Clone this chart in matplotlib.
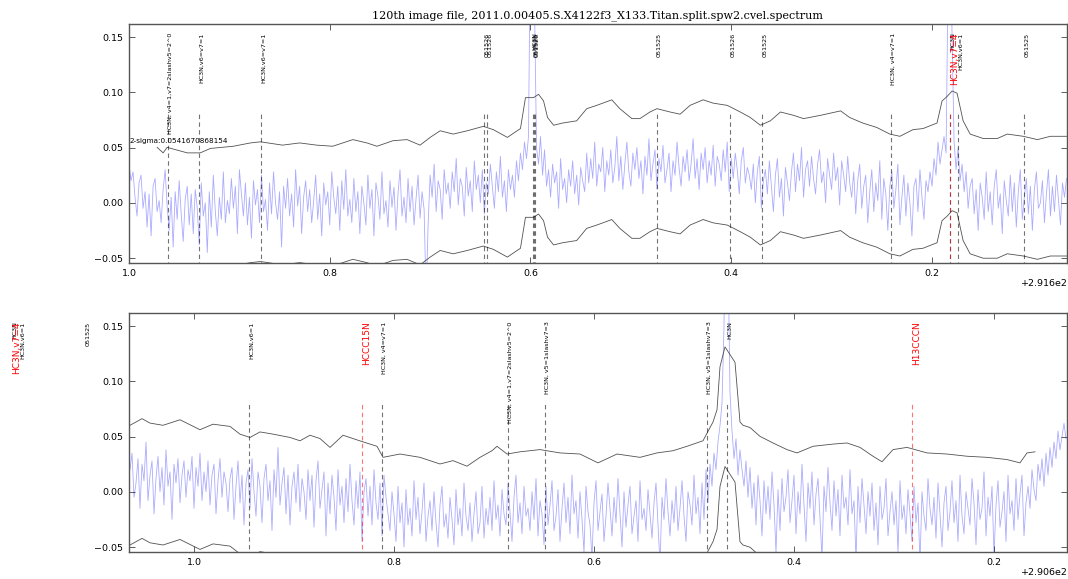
import matplotlib

matplotlib.use("Agg")

import matplotlib.pyplot as plt
import numpy as np

TITLE = "120th image file, 2011.0.00405.S.X4122f3_X133.Titan.split.spw2.cvel.spectrum"
SIGMA2 = 0.0541670868154

# spectrum channels (GHz), 2 MHz steps, values in mJy
TOP_START, BOT_START, CHAN = 292.600, 291.664, 0.002
spec_top_mjy = [
    35, 20, 28, 5, -12, 18, 25, -5, 10, -22,
    8, -30, 15, 22, -8, 2, -18, 12, 30, -3,
    -25, 5, -40, 10, -15, 20, -10, -35, 3, 15,
    -20, 8, -28, 12, -5, -38, 18, -12, 0, -45,
    10, -22, 25, -8, -30, 5, -15, 28, -18, 2,
    -10, 22, -5, 15, -28, 30, 8, -12, 18, -20,
    5, -32, 20, -2, 12, -18, 25, -8, 3, -25,
    18, -10, 28, 0, -15, 10, -40, 15, -5, 22,
    -12, 8, -22, 30, -3, 15, -28, 5, 20, -8,
    12, -18, 2, 25, -15, 8, -30, 18, -2, 10,
    -20, 28, 5, -10, 15, -25, 20, -6, 30, -12,
    3, -18, 22, -8, 10, -28, 15, 0, -20, 25,
    -5, 12, -30, 18, 6, -15, 28, -10, 2, -22,
    20, -4, 14, -25, 8, 30, -12, 5, -18, 22,
    -8, 15, -20, 4, 25, -14, 10, -6, -85, -20,
    25, 5, 35, -8, 20, 12, -15, 30, 8, 18,
    -5, 28, 10, 40, -2, 22, 15, -12, 32, 6,
    20, -8, 38, 12, 25, 0, 30, -10, 18, 8,
    35, 15, -5, 28, 10, 42, 5, 20, -8, 30,
    12, 25, 5, 38, 20, 45, 30, 55, 40, 60,
    250, 320, 180, 50, 35, 60, 25, 48, 15, 30,
    5, 35, 18, 28, -5, 40, 12, 22, 0, 30,
    15, 38, 8, 25, -2, 32, 20, 10, 45, 18,
    40, 22, 55, 15, 35, 28, 50, 10, 38, 25,
    48, 18, 32, 60, 20, 42, 12, 35, 55, 28,
    15, 45, 30, 50, 22, 38, 8, 42, 25, 58,
    20, 35, 48, 12, 40, 28, 52, 18, 30, 45,
    10, 38, 25, 55, 32, 15, 42, 28, 48, 20,
    35, 58, 22, 40, 12, 45, 30, 50, 18, 38,
    25, 52, 15, 42, 35, 20, 48, 28, 55, 10,
    40, 22, 45, 30, 8, 38, 50, 18, 32, 25,
    12, 35, 0, 28, 42, -5, 20, 30, 8, 38,
    15, -8, 25, 40, 5, 22, -12, 32, 18, 2,
    28, 45, 10, 35, 20, 50, 5, 30, 38, 15,
    42, 22, 8, 35, 48, 18, 28, 0, 40, 25,
    12, 45, 20, 32, -2, 38, 25, 10, 42, 18,
    5, 28, -10, 20, 35, -5, 15, 25, -18, 10,
    30, -8, 18, 2, 38, -15, 22, 8, -25, 15,
    28, -5, 12, 35, -20, 5, 25, -12, 18, 0,
    -30, 15, 22, -8, 30, 5, -15, 20, 10, 28,
    15, 40, 25, 55, 35, 48, 60, 45, 200, 280,
    150, 55, 30, 50, 20, 35, 10, 28, -5, 15,
    22, -10, 12, -25, 18, 5, -15, 28, -8, 10,
    -20, 15, 30, -5, 8, -28, 20, 2, -12, 25,
    -8, 18, -22, 10, 30, -15, 5, 22, -10, 15,
    -25, 12, 28, -5, 0, 20, -18, 8, 30, -12,
    15, -8, 25, 2, -20, 18, 5, 22,
]
spec_bot_mjy = [
    20, 35, -5, 8, 30, -15, 25, 10, 45, -8,
    15, 28, -20, 12, 32, 0, 22, -12, 38, 5,
    18, -25, 25, 8, 30, -10, 15, 28, -5, 20,
    10, 32, -15, 22, 5, 35, -8, 18, 0, 28,
    -12, 15, 25, -20, 10, 30, -5, 18, 8, -18,
    12, 22, -25, 5, 28, -10, 15, -30, 8, 20,
    -15, 30, 0, -22, 18, 5, -28, 12, 25, -8,
    10, -35, 20, -5, 40, -12, 8, 22, -20, 15,
    -30, 5, 18, -10, 25, -18, 12, 0, -25, 20,
    -8, 15, -32, 10, 28, -15, 2, 18, -40, 8,
    -20, 15, -5, -35, 20, -12, 5, -28, 12, -18,
    25, -8, -30, 10, -15, 18, -45, 0, 12, -22,
    5, -30, 20, -10, -25, 8, -40, 15, -5, -20,
    -35, 0, -20, -45, 5, -28, -10, -50, 2, -30,
    -15, -40, 10, -25, -5, -38, -18, 8, -45, -22,
    -8, -35, 0, -28, -50, -12, 5, -32, -20, -42,
    -5, -25, -48, 2, -30, -15, -40, 8, -22, -35,
    -10, -45, -20, 0, -38, -28, 5, -42, -15, -30,
    -5, -35, 10, -25, -12, -40, 2, -20, -30, 8,
    -18, -45, -5, 15, -28, -10, -38, 5, -22, -15,
    -35, 0, -25, 12, -40, -8, -20, -48, 5, -30,
    -12, 10, -35, -22, 2, -45, -15, 8, -28, -5,
    -38, 15, -20, -8, -42, 0, -25, -55, 5, -18,
    -30, -60, -10, 10, -35, -18, -2, -45, -22, 8,
    -15, -40, -5, -28, 12, -20, -50, 0, -32, -12,
    5, -38, -22, -8, -45, 10, -25, -15, -35, 2,
    -20, -42, -10, 8, -30, -65, -5, -25, 12, -18,
    -40, -8, -28, 5, -35, -15, 10, -22, -45, 0,
    -12, -30, 15, -20, -5, -38, 8, -25, 20, -10,
    25, 5, 35, 20, 45, 60, 80, 150, 300, 220,
    90, 55, 30, 48, 15, 38, 20, 5, 28, -5,
    22, -15, 8, -30, 15, -8, -40, 10, -20, 5,
    -25, 18, -12, -55, 2, -35, 12, -18, -5, 20,
    -28, -8, 15, -38, 0, -20, 25, -12, -45, 8,
    -15, 18, -30, -2, 12, -25, -60, 5, -18, 22,
    -10, -35, 10, -22, 2, -40, 15, -15, -5, -30,
    20, -20, -8, -62, 5, -28, 12, -12, -38, 0,
    -22, 8, -35, -10, -48, 5, -25, -15, 12, -40,
    -18, 0, -30, -8, -55, 10, -25, -12, -38, 2,
    -20, -45, 5, -28, -10, -65, 0, -22, -35, 12,
    -15, -30, -5, -42, 8, -20, -50, -10, 5, -35,
    -18, 10, -28, -8, -45, 15, -22, -38, 0, -15,
    -30, 12, -10, -48, 2, -25, -15, 18, -40, -5,
    -22, 5, -58, -12, 10, -32, -18, 0, -45, 15,
    -20, -8, -35, 12, -25, -2, 15, -40, -10, 5,
    -15, 20, 2, -8, 25, 10, 30, 5, 35, 15,
    40, 22, 45, 30, 55, 38, 50, 62, 48,
]

# smoothed spectrum (Jy), the black traces are this +/- 2 sigma
smooth_freq = [
    292.572, 292.566, 292.562, 292.542, 292.529, 292.519, 292.496, 292.479,
    292.469, 292.447, 292.430, 292.413, 292.397, 292.377, 292.363, 292.353,
    292.337, 292.323, 292.310, 292.300, 292.290, 292.277, 292.263, 292.247,
    292.237, 292.223, 292.215, 292.210, 292.205, 292.197, 292.192, 292.187,
    292.183, 292.177, 292.168, 292.154, 292.144, 292.134, 292.119, 292.111,
    292.099, 292.091, 292.081, 292.074, 292.061, 292.051, 292.041, 292.028,
    292.018, 292.004, 291.991, 291.981, 291.971, 291.961, 291.951, 291.938,
    291.928, 291.911, 291.891, 291.882, 291.869, 291.855, 291.842, 291.832,
    291.819, 291.809, 291.795, 291.790, 291.785, 291.780, 291.775, 291.769,
    291.762, 291.749, 291.735, 291.725, 291.709, 291.695, 291.682, 291.669,
    291.664, 291.652, 291.644, 291.631, 291.614, 291.594, 291.581, 291.564,
    291.554, 291.544, 291.534, 291.521, 291.504, 291.494, 291.484, 291.474,
    291.464, 291.451, 291.431, 291.417, 291.411, 291.394, 291.374, 291.354,
    291.341, 291.327, 291.314, 291.302, 291.297, 291.287, 291.274, 291.254,
    291.234, 291.214, 291.196, 291.177, 291.154, 291.137, 291.121, 291.107,
    291.091, 291.081, 291.077, 291.074, 291.069, 291.064, 291.059, 291.054,
    291.051, 291.044, 291.034, 291.021, 291.007, 290.997, 290.981, 290.961,
    290.947, 290.934, 290.921, 290.912, 290.901, 290.887, 290.867, 290.847,
    290.827, 290.807, 290.787, 290.774, 290.767, 290.759,
]
smooth_flux = [
    -0.004, -0.009, -0.004, -0.009, -0.009, -0.005, -0.003, 0.000,
    0.001, -0.002, 0.000, -0.002, -0.003, 0.003, 0.000, -0.003,
    0.002, 0.003, -0.002, 0.005, 0.011, 0.008, 0.011, 0.015,
    0.012, 0.005, 0.010, 0.013, 0.041, 0.041, 0.044, 0.038,
    0.023, 0.016, 0.018, 0.020, 0.031, 0.034, 0.039, 0.031,
    0.022, 0.022, 0.028, 0.031, 0.028, 0.026, 0.034, 0.039,
    0.036, 0.034, 0.028, 0.023, 0.016, 0.020, 0.028, 0.025,
    0.022, 0.025, 0.029, 0.023, 0.018, 0.014, 0.008, 0.006,
    0.012, 0.013, 0.018, 0.038, 0.042, 0.047, 0.045, 0.020,
    0.008, 0.004, 0.004, 0.008, 0.006, 0.003, 0.006, 0.006,
    0.006, 0.012, 0.008, 0.006, 0.011, 0.002, 0.007, 0.005,
    -0.002, -0.005, 0.000, -0.002, -0.005, -0.008, -0.003, -0.006,
    -0.014, -0.003, -0.009, -0.013, -0.023, -0.020, -0.023, -0.029,
    -0.026, -0.031, -0.023, -0.017, -0.013, -0.020, -0.018, -0.016,
    -0.019, -0.020, -0.028, -0.020, -0.023, -0.019, -0.017, -0.013,
    -0.008, 0.009, 0.020, 0.059, 0.077, 0.070, 0.063, 0.009,
    0.006, 0.004, -0.004, -0.010, -0.016, -0.019, -0.013, -0.011,
    -0.010, -0.014, -0.022, -0.027, -0.016, -0.014, -0.019, -0.020,
    -0.022, -0.023, -0.025, -0.028, -0.019, -0.018,
]

# line catalogue
line_freq = [292.561, 292.530, 292.468, 292.246, 292.243, 292.198, 292.197,
             292.196, 292.074, 292.001, 291.969, 291.841, 291.782, 291.782,
             291.774, 291.708, 291.545, 291.432, 291.412, 291.286, 291.249,
             291.087, 291.067, 290.882]
line_label = ["HC3N, v4=1,v7=2slashv5=2^0", "HC3N,v6=v7=1", "HC3N,v6=v7=1",
              "051526", "051526", "HC3N", "051525", "051526", "051525",
              "051526", "051525", "HC3N, v4=v7=1", "HC3N", "HC3N,v7=4",
              "HC3N,v6=1", "051525", "HC3N,v6=1", "HCCC15N", "HC3N, v4=v7=1",
              "HC3N, v4=1,v7=2slashv5=2^0", "HC3N, v5=1slashv7=3",
              "HC3N, v5=1slashv7=3", "HC3N", "H13CCCN"]
line_red = [False] * 13 + [True] + [False] * 3 + [True] + [False] * 5 + [True]

panels = [
    dict(xlim=(292.6, 291.6655), ticks=[292.6, 292.4, 292.2, 292.0, 291.8],
         offset="+2.916e2"),
    dict(xlim=(291.665, 290.727), ticks=[291.6, 291.4, 291.2, 291.0, 290.8],
         offset="+2.906e2"),
]
tick_labels = ["1.0", "0.8", "0.6", "0.4", "0.2"]

freq = np.concatenate([TOP_START - CHAN * np.arange(len(spec_top_mjy)),
                       BOT_START - CHAN * np.arange(len(spec_bot_mjy))])
spec = np.array(spec_top_mjy + spec_bot_mjy) / 1000.0
sf = np.array(smooth_freq)
sm = np.array(smooth_flux)

W, H = 1068, 579
fig = plt.figure(figsize=(W / 100, H / 100), dpi=100)
fig.text(598 / W, 1 - 16 / H, TITLE, ha="center", va="center",
         family="DejaVu Serif", fontsize=8)

for k, p in enumerate(panels):
    bottom = (1 - 263 / H) if k == 0 else (1 - 552 / H)
    ax = fig.add_axes([129 / W, bottom, 938 / W, 239 / H])
    ax.set_xlim(*p["xlim"])
    ax.set_ylim(-0.0545, 0.1618)
    ax.plot(freq, spec, color="blue", alpha=0.33, lw=0.6)
    ax.plot(sf, sm + SIGMA2, color="#333333", lw=0.6, alpha=0.85)
    ax.plot(sf, sm - SIGMA2, color="#333333", lw=0.6, alpha=0.85)
    # left edge of figure in data coords, labels beyond the figure are not drawn
    fig_left = ax.transData.inverted().transform((0, 0))[0]
    fig_right = ax.transData.inverted().transform((W - 8, 0))[0]
    for f, lab, red in zip(line_freq, line_label, line_red):
        c = "red" if red else "black"
        ax.plot([f, f], [-0.1, 0.08], ls="--", dashes=(4, 3), color=c,
                alpha=0.55, lw=0.8)
        if fig_right < f < fig_left:
            ax.text(f, 0.154, lab, rotation=90, ha="left", va="top", color=c,
                    fontsize=6.5 if red else 4.6, clip_on=False)
    if k == 0:
        ax.text(292.6, SIGMA2, "2-sigma:" + str(SIGMA2), fontsize=5.2,
                ha="left", va="baseline")
    ax.set_xlim(*p["xlim"])
    ax.set_xticks(p["ticks"])
    ax.set_xticklabels(tick_labels)
    ax.set_yticks([-0.05, 0.0, 0.05, 0.10, 0.15])
    ax.set_yticklabels(["\u22120.05", "0.00", "0.05", "0.10", "0.15"])
    ax.tick_params(direction="in", top=True, right=True, length=4,
                   width=0.6, labelsize=6.8, pad=4, color="#444444")
    for sp in ax.spines.values():
        sp.set_color("#555555")
        sp.set_linewidth(1.0)
    ax.text(1.001, -0.084, p["offset"], transform=ax.transAxes, ha="right",
            va="center", fontsize=6.8)

fig.savefig("out.png", dpi=100, facecolor="white")
